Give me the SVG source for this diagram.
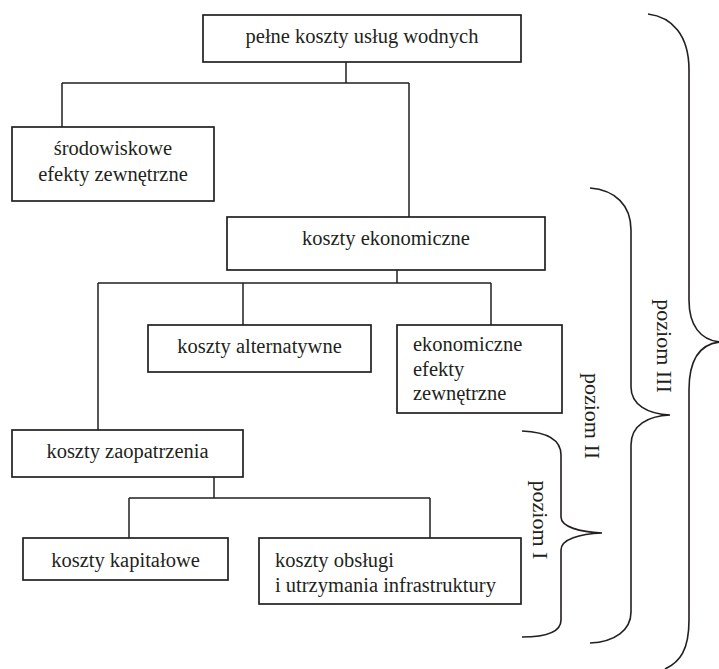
<svg xmlns="http://www.w3.org/2000/svg" width="719" height="669" viewBox="0 0 719 669">
<style>
.box{fill:#fff;stroke:#231f20;stroke-width:1.7}
.ln{fill:none;stroke:#231f20;stroke-width:1.5}
.br{fill:none;stroke:#231f20;stroke-width:1.6}
text{font-family:'Liberation Serif','DejaVu Serif',serif;font-size:20.5px;fill:#231f20}
.c{text-anchor:middle}
.lv{font-size:22px;text-anchor:middle}
</style>
<rect width="719" height="669" fill="#fff"/>
<g id="connectors" class="ln">
<path d="M346,62 V83 M62,83 H409 M62,83 V127 M409,83 V217"/>
<path d="M397,270 V283 M98,283 H491 M243,283 V325 M491,283 V325 M98,283 V430"/>
<path d="M214,477 V498 M129,498 H430 M129,498 V538 M430,498 V538"/>
</g>
<g font-family="Liberation Serif, DejaVu Serif, serif">
<g id="n1"><rect class="box" x="203" y="15" width="318" height="47"/><text class="c" x="362" y="43">pełne koszty usług wodnych</text></g>
<g id="n2"><rect class="box" x="12" y="127" width="202" height="74"/><text class="c" x="113" y="155">środowiskowe</text><text class="c" x="113" y="181">efekty zewnętrzne</text></g>
<g id="n3"><rect class="box" x="227" y="217" width="318" height="53"/><text class="c" x="386" y="245">koszty ekonomiczne</text></g>
<g id="n4"><rect class="box" x="148" y="325" width="223" height="47"/><text class="c" x="259.5" y="353">koszty alternatywne</text></g>
<g id="n5"><rect class="box" x="397" y="325" width="165" height="88"/><text x="413" y="351">ekonomiczne</text><text x="413" y="376">efekty</text><text x="413" y="400">zewnętrzne</text></g>
<g id="n6"><rect class="box" x="12" y="430" width="231" height="47"/><text class="c" x="127.5" y="458">koszty zaopatrzenia</text></g>
<g id="n7"><rect class="box" x="23" y="538" width="205" height="42"/><text class="c" x="125.5" y="567">koszty kapitałowe</text></g>
<g id="n8"><rect class="box" x="259" y="538" width="262" height="66"/><text x="275" y="567">koszty obsługi</text><text x="275" y="592">i utrzymania infrastruktury</text></g>
<g id="brace3"><path class="br" d="M648,14 C672,17 689,35 689,70 L689,300 C689,325 700,340 720,342 C700,344 689,360 689,390 L689,620 C689,650 680,662 665,669"/><text class="lv" transform="translate(662,346) rotate(90)" x="0" y="5">poziom III</text></g>
<g id="brace2"><path class="br" d="M590,188 C615,190 631,205 631,230 L631,387 C631,405 648,414 670,415 C648,416 631,425 631,445 L631,612 C631,630 615,642 590,643"/><text class="lv" transform="translate(590,416) rotate(90)" x="0" y="5">poziom II</text></g>
<g id="brace1"><path class="br" d="M522,431 C545,432 561,438 561,455 L561,517 C561,527 580,532 602,533 C580,534 561,539 561,550 L561,620 C561,632 545,637 522,637"/><text class="lv" transform="translate(537.5,520) rotate(90)" x="0" y="5">poziom I</text></g>
</g>
</svg>
